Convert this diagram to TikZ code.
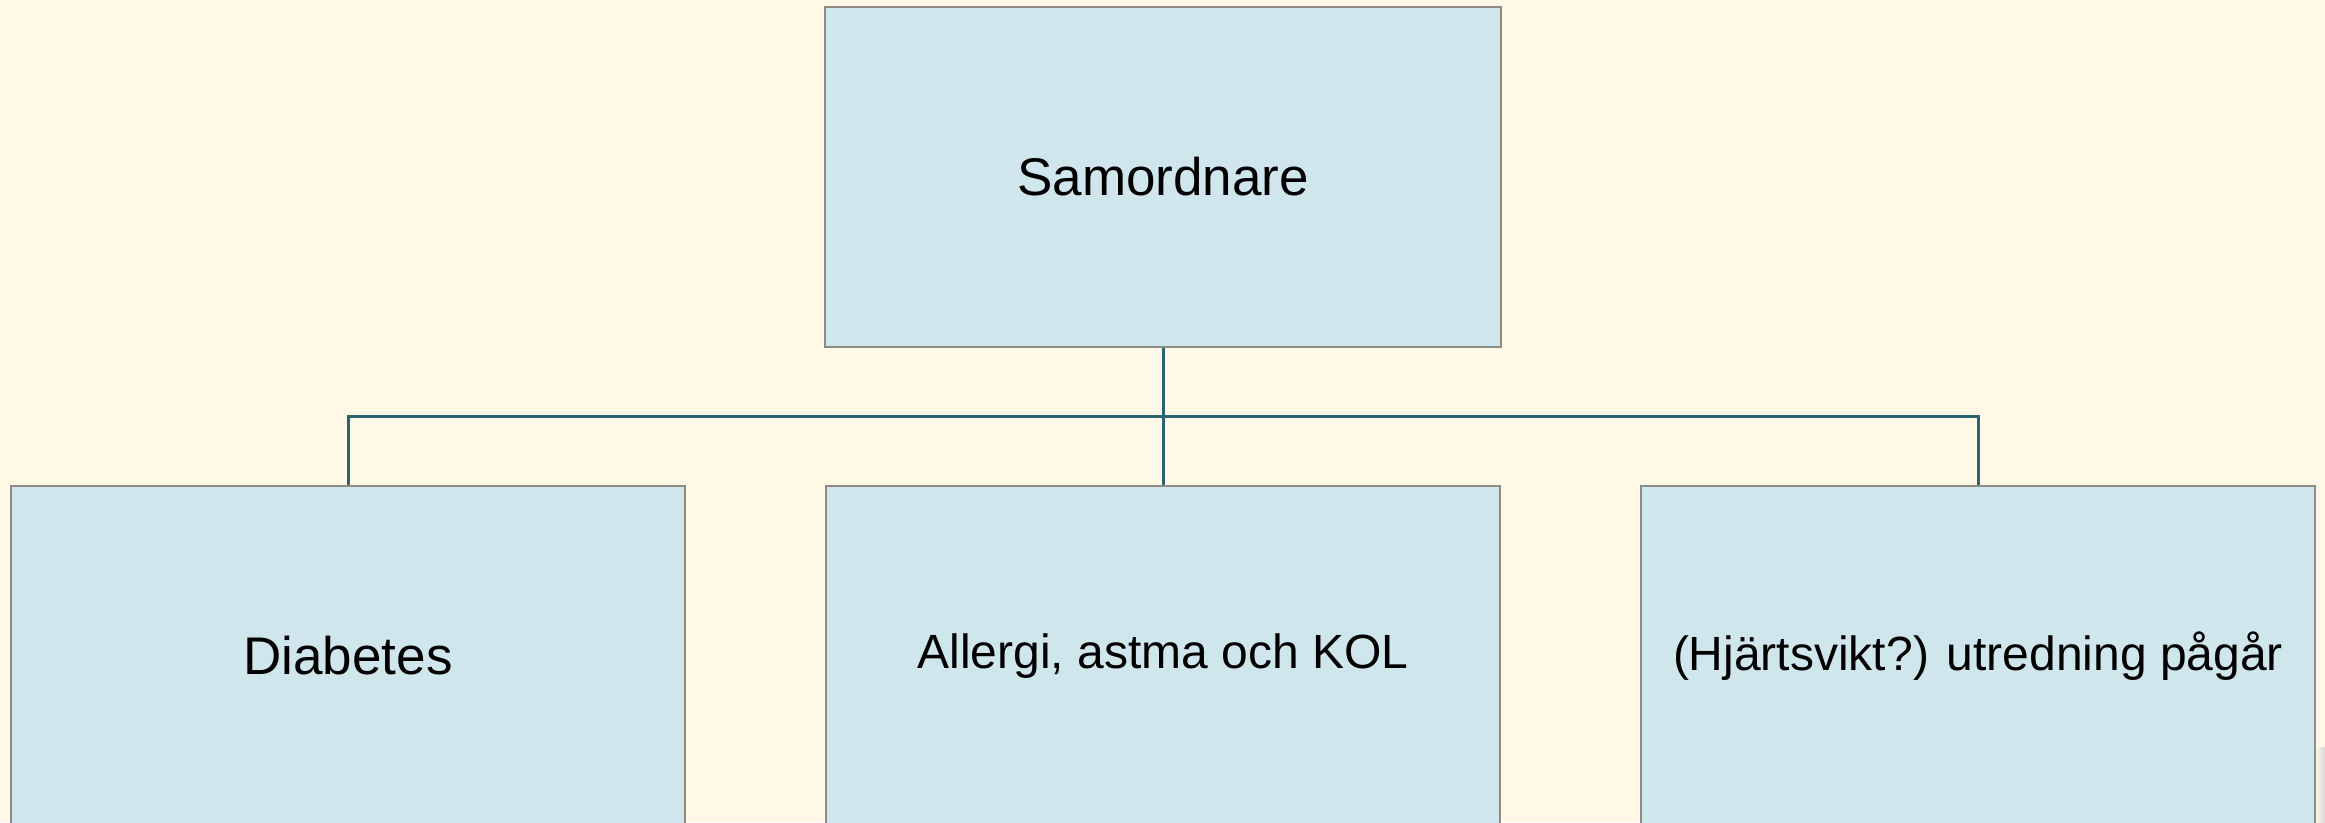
\documentclass[tikz,border=0pt]{standalone}
\usepackage{fontspec}
\setmainfont{Liberation Sans}
\definecolor{bgcream}{HTML}{FFF8E6}
\definecolor{boxfill}{HTML}{CFE7EC}
\definecolor{boxline}{HTML}{8C8C84}
\definecolor{conn}{HTML}{2A6470}
\tikzset{
  orgbox/.style={draw=boxline, line width=1.5pt, fill=boxfill, minimum height=340pt, inner sep=0pt, align=center},
  connector/.style={draw=conn, line width=3pt},
  bigtext/.style={font=\fontsize{53}{60}\selectfont},
  smalltext/.style={font=\fontsize{48}{56}\selectfont}
}
\begin{document}
\begin{tikzpicture}[x=1pt,y=-1pt]
\useasboundingbox (0,0) rectangle (2325,822);
\clip (0,0) rectangle (2325,822);
\fill[bgcream] (0,0) rectangle (2325,822);
\shade[left color=bgcream, right color=black!15] (2315,747) rectangle (2325,822);
\node[orgbox, minimum width=676pt, bigtext] (top) at (1163,177) {Samordnare};
\node[orgbox, minimum width=674pt, bigtext] (left) at (348,656) {Diabetes};
\node[orgbox, minimum width=674pt, smalltext] (mid) at (1163,656) {Allergi, astma och KOL};
\node[orgbox, minimum width=674pt, smalltext] (right) at (1978,656) {(Hjärtsvikt?) utredning pågår};
\coordinate (bus) at (1163,416);
\draw[connector] (top.south) -- (bus);
\draw[connector] (bus) -- (mid.north);
\draw[connector, line join=miter] (bus) -| (left.north);
\draw[connector, line join=miter] (bus) -| (right.north);
\end{tikzpicture}
\end{document}
